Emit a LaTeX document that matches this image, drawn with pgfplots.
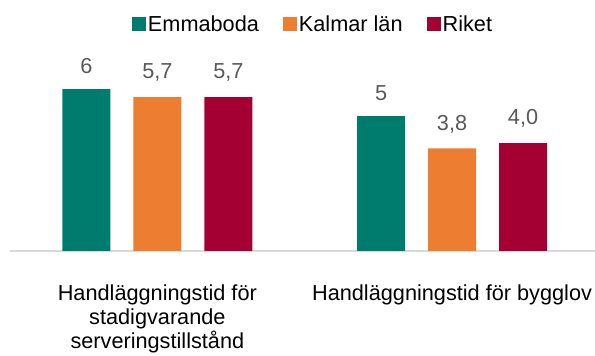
\documentclass[border=0pt]{standalone}
\usepackage{fontspec}
\setmainfont{Liberation Sans}
\usepackage{pgfplots}
\pgfplotsset{compat=1.18}

\definecolor{cEmma}{HTML}{007C6E}
\definecolor{cKalmar}{HTML}{ED7D31}
\definecolor{cRiket}{HTML}{A50034}
\definecolor{cAxis}{HTML}{D9D9D9}
\definecolor{cLabel}{HTML}{595959}

\newcommand{\chartfont}{\fontsize{21.7}{24}\selectfont}

\begin{document}
\begin{tikzpicture}
\path[use as bounding box] (0,0) rectangle (595pt,356pt);
\begin{axis}[
  at={(10pt,105pt)}, anchor=south west,
  scale only axis,
  width=585pt, height=211pt,
  xmin=-0.5, xmax=1.485,
  ymin=0, ymax=7.815,
  axis x line*=bottom,
  axis y line=none,
  x axis line style={cAxis, line width=1.4pt, -},
  xtick={0,1},
  xticklabels={{Handläggningstid för\\stadigvarande\\serveringstillstånd},{Handläggningstid för bygglov}},
  xticklabel style={align=center, font=\chartfont, text=black, yshift=-30pt},
  major tick length=0pt,
  ybar, bar width=48pt,
  nodes near coords,
  point meta=explicit symbolic,
  every node near coord/.append style={font=\chartfont, text=cLabel, yshift=12pt},
  legend columns=3,
  legend style={at={(0.518,1.075)}, anchor=center, draw=none, fill=none,
    font=\chartfont, inner sep=0pt,
    /tikz/every even column/.append style={column sep=22pt}},
  legend image code/.code={\fill[#1] (0pt,-7pt) rectangle (14pt,7pt);},
]
% Emmaboda
\addplot[fill=cEmma, draw=none, bar shift=-71pt] coordinates {(0,6) [6] (1,5) [5]};
% Kalmar län
\addplot[fill=cKalmar, draw=none, bar shift=0pt] coordinates {(0,5.7) [{5,7}] (1,3.8) [{3,8}]};
% Riket
\addplot[fill=cRiket, draw=none, bar shift=71pt] coordinates {(0,5.7) [{5,7}] (1,4.0) [{4,0}]};
\legend{Emmaboda, Kalmar län, Riket}
\end{axis}
\end{tikzpicture}
\end{document}
